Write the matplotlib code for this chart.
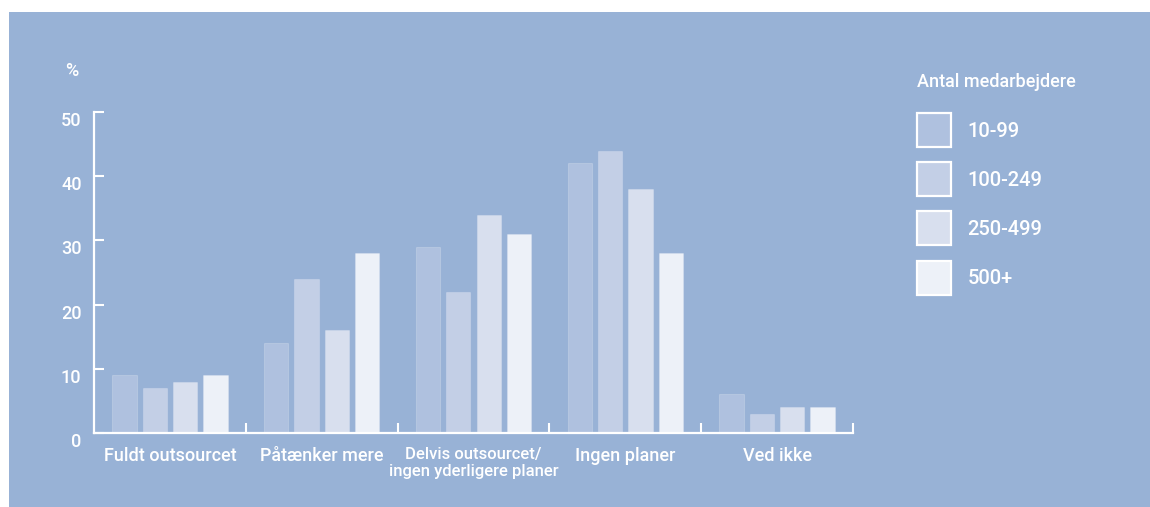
import matplotlib.pyplot as plt
from matplotlib.patches import Patch, Rectangle
import numpy as np

plt.rcParams['font.family'] = ['Roboto', 'DejaVu Sans']
plt.rcParams['font.weight'] = 500

categories = ['Fuldt outsourcet', 'Påtænker mere', 'Delvis outsourcet/\ningen yderligere planer',
              'Ingen planer', 'Ved ikke']
series = ['10-99', '100-249', '250-499', '500+']
values = {
    '10-99':   [9, 14, 29, 42, 6],
    '100-249': [7, 24, 22, 44, 3],
    '250-499': [8, 16, 34, 38, 4],
    '500+':    [9, 28, 31, 28, 4],
}
colors = ['#afc1df', '#c3cfe6', '#d8dfee', '#edf1f8']
bg = '#98b2d6'

fig = plt.figure(figsize=(11.5, 5.07), dpi=100)
fig.patches.append(Rectangle((9 / 1150, 0), 1, 495 / 507, transform=fig.transFigure,
                             facecolor=bg, edgecolor='none', zorder=-10))

ax = fig.add_axes([94 / 1150, 74 / 507, 759 / 1150, 321 / 507])
ax.set_facecolor('none')

x = np.arange(len(categories))
w = 0.16
pitch = 0.2
for i, s in enumerate(series):
    ax.bar(x + (i - 1.5) * pitch, values[s], width=w, color=colors[i],
           edgecolor='#ffffff30', linewidth=0.8)

ax.set_xlim(-0.5, 4.5)
ax.set_ylim(0, 50)
for side in ['top', 'right']:
    ax.spines[side].set_visible(False)
for side in ['left', 'bottom']:
    ax.spines[side].set_color('white')
    ax.spines[side].set_linewidth(1.6)

ax.set_yticks([0, 10, 20, 30, 40, 50])
ax.tick_params(axis='y', direction='in', length=7.5, width=1.5, colors='white',
               labelsize=13, pad=9)
for t in ax.get_yticklabels():
    t.set_verticalalignment('top')
ax.set_xticks(np.arange(0.5, 5, 1))
ax.set_xticklabels([])
ax.tick_params(axis='x', which='major', direction='in', length=7.5, width=1.5, colors='white')
ax.set_xticks(x, minor=True)
ax.set_xticklabels(categories, minor=True)
ax.tick_params(axis='x', which='minor', length=0, labelsize=13, pad=10, colors='white')
lbls = ax.get_xticklabels(minor=True)
lbls[2].set_fontsize(12)
lbls[2].set_linespacing(1.15)

fig.text(65 / 1150, 1 - 71 / 507, '%', color='white', fontsize=13, va='center', ha='left')

handles = [Patch(facecolor=colors[i], edgecolor='white', linewidth=1.6, label=s)
           for i, s in enumerate(series)]
leg = fig.legend(handles=handles, loc='upper left', bbox_to_anchor=(917 / 1150, 1 - 73 / 507),
                 frameon=False, fontsize=14.5, title='Antal medarbejdere', title_fontsize=13,
                 handlelength=1.7, handleheight=2.22, labelspacing=0.75, handletextpad=0.8,
                 borderpad=0, borderaxespad=0, alignment='left', labelcolor='white')
leg.get_title().set_color('white')
leg._legend_box.sep = 16

fig.savefig('out.png', dpi=100, facecolor='white')
